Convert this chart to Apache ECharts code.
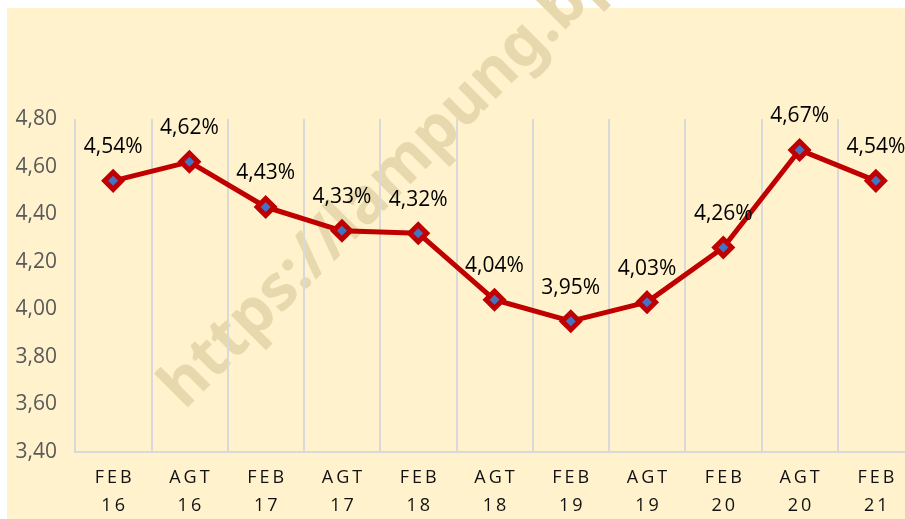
<!DOCTYPE html>
<html>
<head>
<meta charset="utf-8">
<script src="https://cdn.jsdelivr.net/npm/echarts@6/dist/echarts.min.js"></script>
<style>
  html, body { margin: 0; padding: 0; background: #fff; }
  #chart { width: 905px; height: 519px; }
</style>
</head>
<body>
<div id="chart"></div>
<script>
// periode survei (Februari / Agustus)
const periods = ['FEB 16', 'AGT 16', 'FEB 17', 'AGT 17', 'FEB 18', 'AGT 18', 'FEB 19', 'AGT 19', 'FEB 20', 'AGT 20', 'FEB 21']
// nilai persen
const values = [4.54, 4.62, 4.43, 4.33, 4.32, 4.04, 3.95, 4.03, 4.26, 4.67, 4.54]
const yMin = 3.4
const yMax = 4.8
const yStep = 0.2
const watermark = 'https://lampung.bps.go.id'

const chart = echarts.init(document.getElementById('chart'))

const comma = (v, d) => v.toFixed(d).replace('.', ',')
const spaced = s => s.split('').join('\u2009')
const font = '"Open Sans", Lato, sans-serif'

const option = {
  backgroundColor: '#ffffff',
  animation: false,
  graphic: [
    {
      type: 'rect',
      z: -10,
      silent: true,
      shape: { x: 7, y: 8, width: 905, height: 519 },
      style: { fill: '#FFF2CC' }
    },
    {
      type: 'text',
      z: 0,
      silent: true,
      x: 194,
      y: 420,
      rotation: Math.PI / 4,
      style: {
        text: watermark,
        fill: '#E8D8AE',
        font: 'bold 63px "Noto Sans", sans-serif',
        textAlign: 'left',
        textVerticalAlign: 'bottom'
      }
    }
  ],
  grid: { left: 75, right: -9, top: 119, bottom: 67, outerBoundsMode: 'none' },
  xAxis: {
    type: 'category',
    data: periods,
    boundaryGap: true,
    axisLine: { show: true, lineStyle: { color: '#D9D9D9', width: 2 } },
    axisTick: { show: false },
    splitLine: { show: true, lineStyle: { color: '#D9D9D9', width: 2 } },
    axisLabel: {
      margin: 12,
      color: '#111111',
      fontSize: 18,
      lineHeight: 28,
      fontFamily: font,
      formatter: v => v.split(' ').map(spaced).join('\n')
    }
  },
  yAxis: {
    type: 'value',
    min: yMin,
    max: yMax,
    interval: yStep,
    axisLine: { show: false },
    axisTick: { show: false },
    splitLine: { show: false },
    axisLabel: {
      margin: 18,
      color: '#595959',
      fontSize: 21,
      fontFamily: font,
      formatter: v => comma(v, 2)
    }
  },
  series: [
    {
      type: 'line',
      data: values,
      z: 5,
      lineStyle: { color: '#C00000', width: 5 },
      symbol: 'diamond',
      symbolSize: 17,
      itemStyle: { color: '#4472C4', borderColor: '#C00000', borderWidth: 5 },
      label: {
        show: true,
        position: 'top',
        distance: 12,
        color: '#000',
        fontSize: 21,
        fontFamily: font,
        formatter: p => comma(p.value, 2) + '%'
      }
    }
  ]
}

chart.setOption(option)
</script>
</body>
</html>
